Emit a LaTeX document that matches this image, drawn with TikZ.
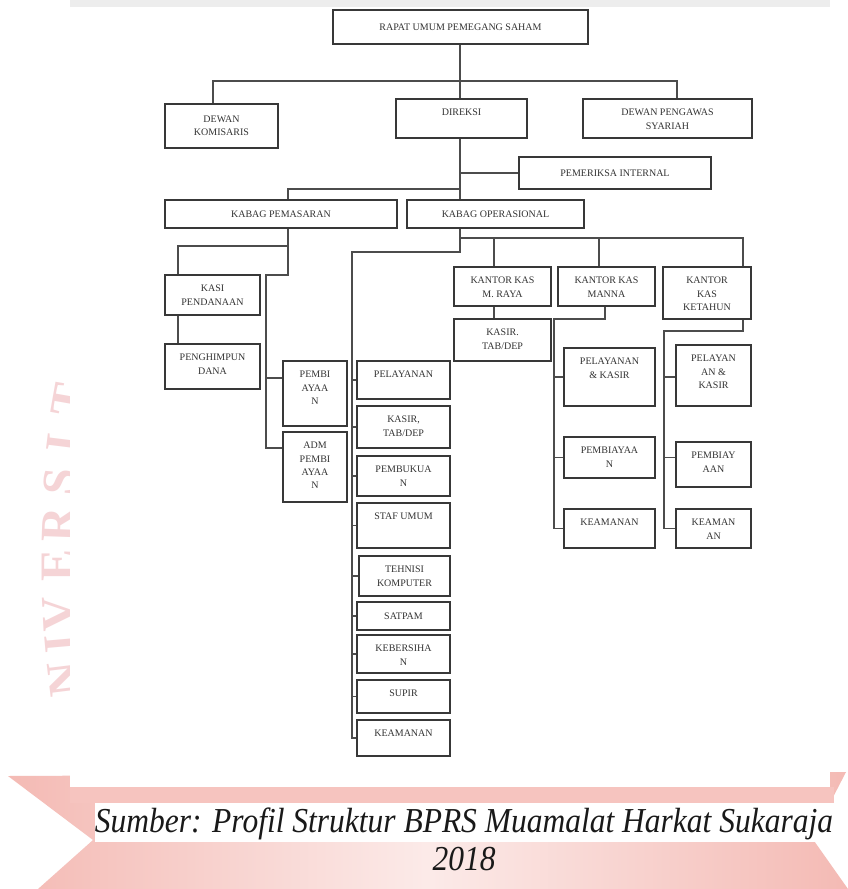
\documentclass[tikz,border=0pt]{standalone}
\usepackage{fontspec}
\setmainfont{Liberation Serif}
\usetikzlibrary{fit}
\definecolor{rib}{RGB}{244,186,180}
\definecolor{wm}{RGB}{236,170,175}
\tikzset{
  obx/.style={draw=black!78, line width=1.5pt, inner sep=0pt, fill=white},
  lbl/.style={inner sep=0pt, align=center, text=black!80, font=\fontsize{10}{13.3}\selectfont},
  cn/.style={draw=black!70, line width=1.3pt},
  wml/.style={font=\fontsize{48}{50}\selectfont\bfseries, text=wm, opacity=0.5, anchor=base, inner sep=0pt},
}
\newcommand{\obox}[6]{\node[obx, fit={(#2,#3) (#4,#5)}] (#1) {};
  \node[lbl, anchor=north] (#1t) at ([yshift=-10.7pt]#1.north) {#6};}
\newcommand{\cbox}[6]{\node[obx, fit={(#2,#3) (#4,#5)}] (#1) {};
  \node[lbl] (#1t) at (#1.center) {#6};}
\begin{document}
\begin{tikzpicture}[x=1pt, y=-1pt]
\useasboundingbox (0,0) rectangle (848,889);
\fill[white] (0,0) rectangle (848,889);
% watermark letters (partly hidden behind the chart)
\node[wml, rotate=97] (w1) at (80,677) {N};
\node[wml, rotate=95] (w2) at (77,642) {I};
\node[wml, rotate=93] (w3) at (75,613) {V};
\node[wml, rotate=90] (w4) at (73,565) {E};
\node[wml, rotate=88] (w5) at (74,525) {R};
\node[wml, rotate=85] (w6) at (76,483) {S};
\node[wml, rotate=83] (w7) at (79,445) {I};
\node[wml, rotate=80] (w8) at (84,403) {T};
% ribbon
\shade[left color=rib, right color=rib, middle color=rib!30] (8,776) -- (846,772) -- (812,838) -- (848,889) -- (38,889) -- (93,840) -- cycle;
\fill[rib!85] (70,787) rectangle (834,803);
% chart area
\fill[white] (70,7) rectangle (830,787);
\fill[black!7] (70,0) rectangle (830,7);

% boxes
\cbox{rups}{333}{10}{588}{44}{RAPAT UMUM PEMEGANG SAHAM}
\cbox{dk}{165}{104}{278}{148}{DEWAN\\KOMISARIS}
\obox{dir}{396}{99}{527}{138}{DIREKSI}
\obox{dps}{583}{99}{752}{138}{DEWAN PENGAWAS\\SYARIAH}
\cbox{pi}{519}{157}{711}{189}{PEMERIKSA INTERNAL}
\cbox{kp}{165}{200}{397}{228}{KABAG PEMASARAN}
\cbox{kop}{407}{200}{584}{228}{KABAG OPERASIONAL}
\obox{kasi}{165}{275}{260}{315}{KASI\\PENDANAAN}
\obox{phd}{165}{344}{260}{389}{PENGHIMPUN\\DANA}
\obox{pemb}{283}{361}{347}{426}{PEMBI\\AYAA\\N}
\obox{adm}{283}{432}{347}{502}{ADM\\PEMBI\\AYAA\\N}
\obox{pel}{357}{361}{450}{399}{PELAYANAN}
\obox{ksr}{357}{406}{450}{448}{KASIR,\\TAB/DEP}
\obox{pbk}{357}{456}{450}{496}{PEMBUKUA\\N}
\obox{staf}{357}{503}{450}{548}{STAF UMUM}
\obox{tek}{359}{556}{450}{596}{TEHNISI\\KOMPUTER}
\cbox{sat}{357}{602}{450}{630}{SATPAM}
\obox{keb}{357}{635}{450}{673}{KEBERSIHA\\N}
\obox{sup}{357}{680}{450}{713}{SUPIR}
\obox{kea}{357}{720}{450}{756}{KEAMANAN}
\obox{kkm}{454}{267}{551}{306}{KANTOR KAS\\M. RAYA}
\obox{kkn}{558}{267}{655}{306}{KANTOR KAS\\MANNA}
\obox{kkk}{663}{267}{751}{319}{KANTOR\\KAS\\KETAHUN}
\obox{ksr2}{454}{319}{551}{361}{KASIR.\\TAB/DEP}
\obox{pk1}{564}{348}{655}{406}{PELAYANAN\\\& KASIR}
\obox{pb1}{564}{437}{655}{478}{PEMBIAYAA\\N}
\obox{ke1}{564}{509}{655}{548}{KEAMANAN}
\obox{pk2}{676}{345}{751}{406}{PELAYAN\\AN \&\\KASIR}
\obox{pb2}{676}{442}{751}{487}{PEMBIAY\\AAN}
\obox{ke2}{676}{509}{751}{548}{KEAMAN\\AN}

% connectors
\coordinate (sp) at (460,81);
\coordinate (bL) at (213,81);
\coordinate (bR) at (677,81);
\draw[cn] (sp |- rups.south) -- (sp |- dir.north);
\draw[cn] (bL |- dk.north) -- (bL) -- (bR) -- (bR |- dps.north);
\draw[cn] (sp |- dir.south) -- (sp |- kop.north);
\draw[cn] (sp |- pi.west) -- (pi.west);
\coordinate (kb) at (288,189);
\draw[cn] (sp |- kb) -- (kb) -- (kb |- kp.north);
% operasional
\coordinate (colx) at (352,252);
\draw[cn] (sp |- kop.south) -- (sp |- colx) -- (colx) -- (colx |- kea.west) -- (kea.west);
\foreach \n in {pel,ksr,pbk,staf,tek,sat,keb,sup} \draw[cn] (colx |- \n.west) -- (\n.west);
\coordinate (kkb) at (460,238);
\coordinate (d1) at (494,238);
\coordinate (d2) at (599,238);
\coordinate (d3) at (743,238);
\draw[cn] (kkb) -- (d3) -- (d3 |- kkk.north);
\draw[cn] (d1) -- (d1 |- kkm.north);
\draw[cn] (d2) -- (d2 |- kkn.north);
\draw[cn] (d1 |- kkm.south) -- (d1 |- ksr2.north);
\coordinate (m1) at (605,319);
\coordinate (mx) at (554,319);
\draw[cn] (m1 |- kkn.south) -- (m1) -- (mx) -- (mx |- ke1.west) -- (ke1.west);
\draw[cn] (mx |- pk1.west) -- (pk1.west);
\draw[cn] (mx |- pb1.west) -- (pb1.west);
\coordinate (k1) at (743,331);
\coordinate (kx) at (664,331);
\draw[cn] (k1 |- kkk.south) -- (k1) -- (kx) -- (kx |- ke2.west) -- (ke2.west);
\draw[cn] (kx |- pk1.west) -- (pk2.west |- pk1.west);
\draw[cn] (kx |- pb1.west) -- (pb2.west |- pb1.west);
% pemasaran
\coordinate (pA) at (288,246);
\coordinate (pB) at (178,246);
\coordinate (pC) at (288,275);
\coordinate (pD) at (266,275);
\coordinate (pE) at (266,448);
\coordinate (pF) at (266,378);
\draw[cn] (pA |- kp.south) -- (pC) -- (pD) -- (pE) -- (pE -| adm.west);
\draw[cn] (pA) -- (pB) -- (pB |- kasi.north);
\draw[cn] (pB |- kasi.south) -- (pB |- phd.north);
\draw[cn] (pF) -- (pF -| pemb.west);

% caption
\fill[white] (95,803) rectangle (834,842);
\node[font=\fontsize{35}{40}\selectfont\itshape, xscale=0.9, anchor=base, inner sep=0pt, text=black!90] (cap1) at (464,832) {Sumber: Profil Struktur BPRS Muamalat Harkat Sukaraja};
\node[font=\fontsize{35}{40}\selectfont\itshape, xscale=0.9, anchor=base, inner sep=0pt, text=black!90] (cap2) at (464,870) {2018};
\end{tikzpicture}
\end{document}
